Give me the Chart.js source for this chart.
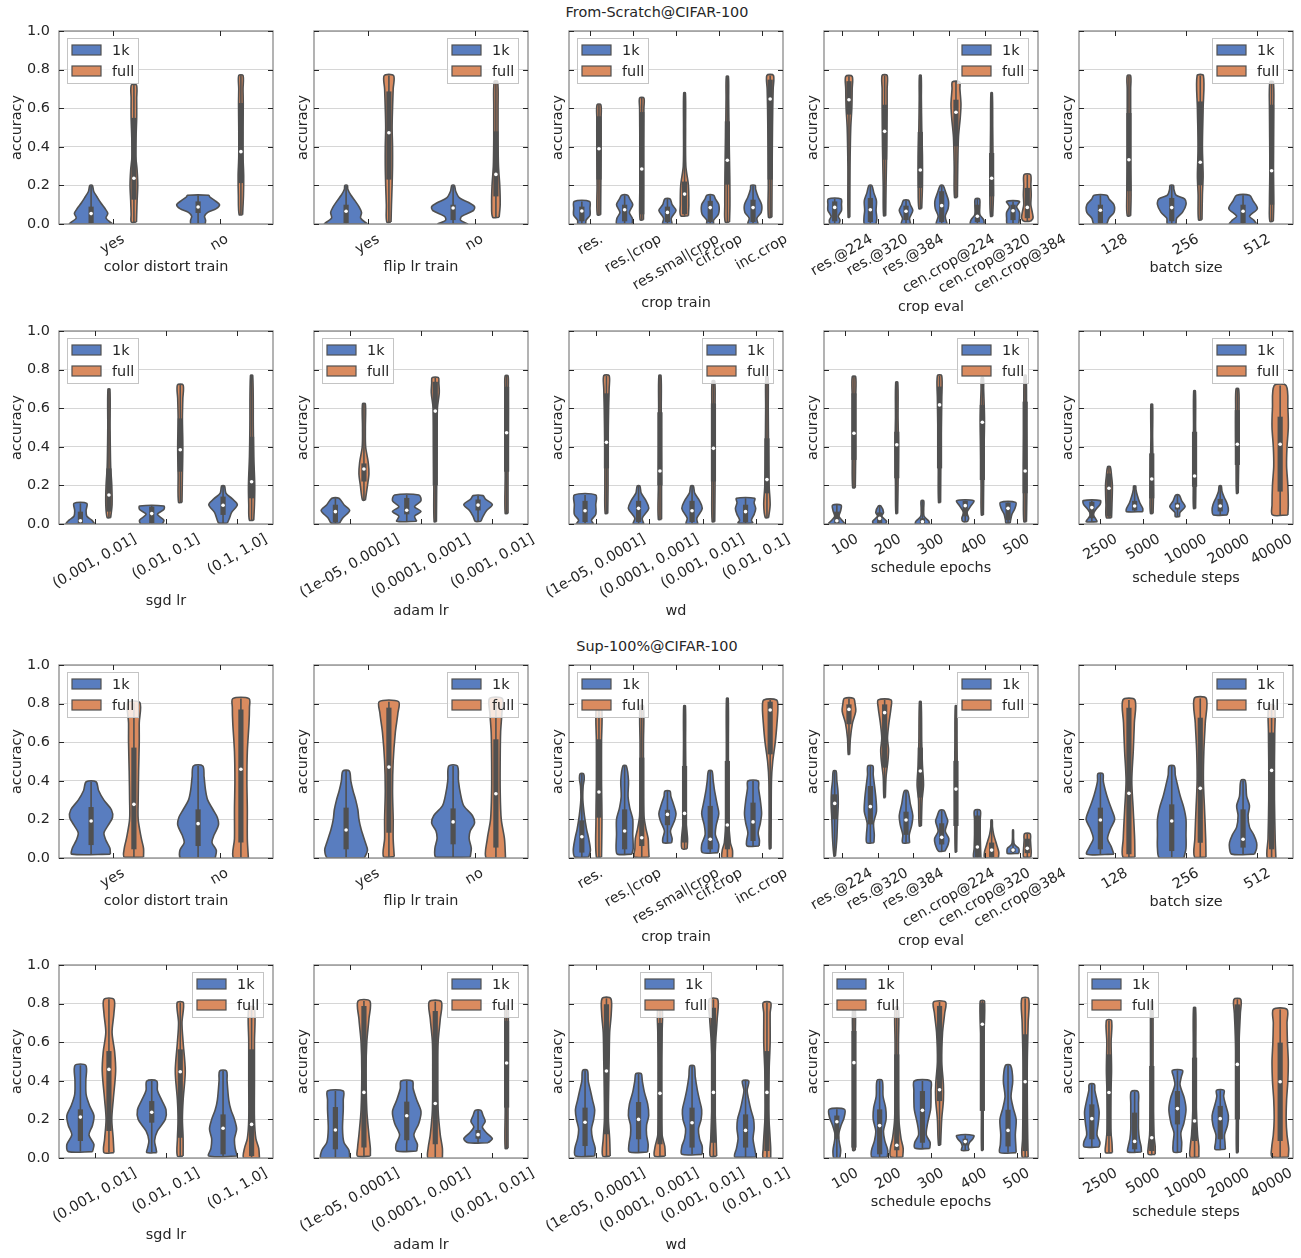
<!DOCTYPE html>
<html>
<head>
<meta charset="utf-8">
<script src="https://cdn.jsdelivr.net/npm/chart.js@4/dist/chart.umd.min.js"></script>
<style>
  html, body { margin: 0; padding: 0; background: #fff; }
  body { width: 1301px; height: 1258px; position: relative; overflow: hidden; font-family: "DejaVu Sans", sans-serif; }
  canvas { position: absolute; }
  .sup { position: absolute; left: 0; width: 1314px; text-align: center; font-size: 14.4px; line-height: 17px; color: #262626; }
</style>
</head>
<body>
<div class="sup" style="top:4px">From-Scratch@CIFAR-100</div>
<div class="sup" style="top:638px">Sup-100%@CIFAR-100</div>
<script>
// ---------- categories ----------
const hueNames = ['1k', 'full'];
const yTicks = [0, 0.2, 0.4, 0.6, 0.8, 1.0];
const colorCats = ['yes', 'no'];
const flipCats = ['yes', 'no'];
const cropTrainCats = ['res.', 'res.|crop', 'res.smal|crop', 'cif.crop', 'inc.crop'];
const cropEvalCats = ['res.@224', 'res.@320', 'res.@384', 'cen.crop@224', 'cen.crop@320', 'cen.crop@384'];
const batchCats = ['128', '256', '512'];
const sgdCats = ['(0.001, 0.01]', '(0.01, 0.1]', '(0.1, 1.0]'];
const adamCats = ['(1e-05, 0.0001]', '(0.0001, 0.001]', '(0.001, 0.01]'];
const wdCats = ['(1e-05, 0.0001]', '(0.0001, 0.001]', '(0.001, 0.01]', '(0.01, 0.1]'];
const epochCats = ['100', '200', '300', '400', '500'];
const stepCats = ['2500', '5000', '10000', '20000', '40000'];

// ---------- violins: [[q1, median, q3], [[accuracy, relative density], ...]] ----------
// From-Scratch@CIFAR-100
const fsColor1k = [
  [[0.005,0.054,0.09], [[0,1.0],[0.03,0.7],[0.055,0.78],[0.08,0.65],[0.11,0.45],[0.14,0.28],[0.17,0.12],[0.2,0.06]]],
  [[0.057,0.088,0.117], [[0,0.33],[0.02,0.35],[0.04,0.3],[0.06,0.45],[0.08,0.85],[0.1,1.0],[0.12,0.8],[0.14,0.55],[0.149,0.5]]]
];
const fsColorFull = [
  [[0.126,0.237,0.55], [[0.01,0.12],[0.05,0.13],[0.12,0.15],[0.2,0.18],[0.28,0.15],[0.35,0.09],[0.45,0.1],[0.55,0.13],[0.65,0.13],[0.72,0.12]]],
  [[0.212,0.375,0.627], [[0.048,0.08],[0.15,0.12],[0.25,0.13],[0.35,0.1],[0.5,0.1],[0.62,0.11],[0.7,0.1],[0.769,0.1]]]
];
const fsFlip1k = [
  [[0.005,0.066,0.1], [[0,1.0],[0.03,0.68],[0.06,0.72],[0.09,0.6],[0.12,0.42],[0.15,0.22],[0.18,0.08],[0.2,0.06]]],
  [[0.02,0.083,0.1], [[0,0.7],[0.02,0.35],[0.04,0.4],[0.07,0.95],[0.09,1.0],[0.11,0.75],[0.135,0.3],[0.17,0.12],[0.2,0.06]]]
];
const fsFlipFull = [
  [[0.23,0.473,0.687], [[0.01,0.1],[0.1,0.12],[0.2,0.15],[0.3,0.17],[0.4,0.17],[0.5,0.15],[0.6,0.17],[0.7,0.2],[0.769,0.22]]],
  [[0.143,0.257,0.48], [[0.035,0.15],[0.1,0.2],[0.2,0.18],[0.3,0.12],[0.45,0.1],[0.6,0.1],[0.739,0.08]]]
];
const fsCropTrain1k = [
  [[0.014,0.067,0.09], [[0,0.45],[0.02,0.5],[0.045,0.95],[0.08,0.95],[0.117,0.9]]],
  [[0.014,0.074,0.1], [[0,0.9],[0.03,0.9],[0.06,0.55],[0.1,0.95],[0.13,0.6],[0.149,0.35]]],
  [[0.01,0.06,0.09], [[0,0.55],[0.03,0.45],[0.07,1.0],[0.1,0.55],[0.13,0.3]]],
  [[0.01,0.085,0.12], [[0,0.4],[0.02,0.4],[0.05,0.95],[0.1,1.0],[0.13,0.6],[0.149,0.4]]],
  [[0.01,0.085,0.126], [[0,0.6],[0.03,0.45],[0.06,0.95],[0.1,1.0],[0.14,0.6],[0.18,0.3],[0.2,0.25]]]
];
const fsCropTrainFull = [
  [[0.23,0.39,0.558], [[0.048,0.2],[0.2,0.22],[0.4,0.25],[0.55,0.25],[0.618,0.22]]],
  [[0.05,0.285,0.58], [[0.022,0.2],[0.2,0.22],[0.4,0.22],[0.6,0.25],[0.653,0.25]]],
  [[0.05,0.155,0.22], [[0.043,0.45],[0.1,0.5],[0.2,0.45],[0.3,0.15],[0.5,0.12],[0.679,0.1]]],
  [[0.204,0.33,0.532], [[0.01,0.25],[0.1,0.3],[0.25,0.28],[0.45,0.2],[0.65,0.15],[0.765,0.12]]],
  [[0.23,0.648,0.748], [[0.035,0.2],[0.2,0.22],[0.4,0.25],[0.6,0.3],[0.7,0.35],[0.77,0.38]]]
];
const fsCropEval1k = [
  [[0.014,0.086,0.117], [[0,0.6],[0.02,0.75],[0.04,0.5],[0.07,0.95],[0.1,0.95],[0.13,0.9]]],
  [[0.01,0.074,0.135], [[0,0.8],[0.03,0.9],[0.07,0.8],[0.12,0.85],[0.16,0.5],[0.2,0.2]]],
  [[0.02,0.066,0.095], [[0,0.65],[0.03,0.5],[0.07,0.95],[0.1,0.6],[0.123,0.35]]],
  [[0.01,0.095,0.17], [[0,0.75],[0.04,0.5],[0.08,0.9],[0.12,0.95],[0.16,0.6],[0.2,0.2]]],
  [[0.01,0.04,0.1], [[0,0.95],[0.02,0.9],[0.05,0.35],[0.1,0.35],[0.13,0.3]]],
  [[0.02,0.069,0.1], [[0,0.8],[0.03,0.9],[0.06,0.9],[0.09,0.5],[0.117,0.9]]]
];
const fsCropEvalFull = [
  [[0.567,0.644,0.74], [[0.035,0.12],[0.3,0.15],[0.5,0.25],[0.6,0.4],[0.7,0.45],[0.765,0.45]]],
  [[0.333,0.48,0.618], [[0.043,0.15],[0.2,0.2],[0.4,0.3],[0.6,0.35],[0.7,0.35],[0.77,0.35]]],
  [[0.187,0.28,0.477], [[0.08,0.2],[0.2,0.3],[0.35,0.3],[0.5,0.2],[0.65,0.15],[0.77,0.12]]],
  [[0.402,0.579,0.644], [[0.138,0.2],[0.3,0.25],[0.45,0.35],[0.55,0.6],[0.62,0.7],[0.7,0.55],[0.736,0.5]]],
  [[0.143,0.237,0.368], [[0.04,0.15],[0.15,0.25],[0.3,0.2],[0.5,0.15],[0.679,0.1]]],
  [[0.03,0.086,0.187], [[0.014,0.45],[0.03,0.8],[0.06,0.7],[0.1,0.5],[0.15,0.55],[0.2,0.5],[0.256,0.45]]]
];
const fsBatch1k = [
  [[0.005,0.071,0.1], [[0,0.45],[0.03,0.6],[0.06,0.95],[0.1,0.95],[0.13,0.6],[0.149,0.45]]],
  [[0.014,0.085,0.135], [[0,0.3],[0.03,0.35],[0.06,0.75],[0.1,1.0],[0.13,0.9],[0.15,0.3],[0.18,0.15],[0.2,0.12]]],
  [[0.005,0.066,0.1], [[0,0.95],[0.02,0.75],[0.04,0.45],[0.08,1.0],[0.12,0.7],[0.149,0.45]]]
];
const fsBatchFull = [
  [[0.17,0.333,0.575], [[0.043,0.12],[0.15,0.15],[0.3,0.12],[0.5,0.12],[0.7,0.12],[0.769,0.12]]],
  [[0.2,0.32,0.635], [[0.022,0.12],[0.15,0.15],[0.25,0.2],[0.4,0.15],[0.6,0.2],[0.769,0.22]]],
  [[0.1,0.276,0.618], [[0.014,0.12],[0.1,0.15],[0.3,0.12],[0.6,0.15],[0.736,0.12]]]
];
const fsSgd1k = [
  [[0,0.017,0.064], [[0,1.0],[0.02,0.8],[0.04,0.45],[0.07,0.4],[0.107,0.45]]],
  [[0.005,0.054,0.09], [[0,0.75],[0.02,0.85],[0.05,0.4],[0.075,0.85],[0.093,0.85]]],
  [[0.047,0.097,0.142], [[0.005,0.3],[0.03,0.45],[0.06,0.6],[0.1,1.0],[0.13,0.65],[0.16,0.2],[0.197,0.1]]]
];
const fsSgdFull = [
  [[0.064,0.15,0.288], [[0.033,0.12],[0.1,0.22],[0.2,0.2],[0.3,0.12],[0.5,0.08],[0.698,0.07]]],
  [[0.271,0.385,0.547], [[0.112,0.12],[0.25,0.15],[0.4,0.18],[0.55,0.15],[0.65,0.18],[0.72,0.2]]],
  [[0.133,0.219,0.452], [[0.02,0.15],[0.1,0.2],[0.2,0.22],[0.35,0.15],[0.5,0.12],[0.769,0.08]]]
];
const fsAdam1k = [
  [[0.01,0.064,0.1], [[0.005,0.3],[0.03,0.5],[0.07,1.0],[0.1,0.6],[0.133,0.25]]],
  [[0.05,0.071,0.135], [[0.014,0.7],[0.04,0.55],[0.065,1.0],[0.09,0.55],[0.12,1.0],[0.15,0.85]]],
  [[0.07,0.098,0.127], [[0.014,0.2],[0.04,0.35],[0.07,0.6],[0.1,1.0],[0.13,0.5],[0.147,0.35]]]
];
const fsAdamFull = [
  [[0.22,0.285,0.314], [[0.124,0.1],[0.2,0.25],[0.26,0.35],[0.32,0.3],[0.4,0.12],[0.5,0.1],[0.622,0.1]]],
  [[0.2,0.585,0.737], [[0.012,0.08],[0.2,0.1],[0.4,0.12],[0.6,0.15],[0.68,0.28],[0.73,0.25],[0.758,0.22]]],
  [[0.271,0.473,0.711], [[0.055,0.1],[0.25,0.1],[0.5,0.12],[0.7,0.12],[0.768,0.1]]]
];
const fsWd1k = [
  [[0.01,0.069,0.12], [[0,0.8],[0.02,0.6],[0.05,1.0],[0.1,1.0],[0.15,1.0]]],
  [[0.01,0.081,0.12], [[0,0.5],[0.03,0.35],[0.08,0.95],[0.12,0.7],[0.16,0.25],[0.197,0.12]]],
  [[0.01,0.069,0.12], [[0,0.55],[0.03,0.45],[0.08,0.95],[0.12,0.7],[0.16,0.25],[0.197,0.12]]],
  [[0.01,0.064,0.1], [[0.005,0.7],[0.02,0.55],[0.05,0.8],[0.08,0.95],[0.11,0.8],[0.133,0.85]]]
];
const fsWdFull = [
  [[0.288,0.423,0.677], [[0.055,0.12],[0.2,0.15],[0.4,0.15],[0.6,0.2],[0.7,0.25],[0.769,0.25]]],
  [[0.2,0.275,0.579], [[0.024,0.15],[0.2,0.15],[0.4,0.12],[0.6,0.12],[0.769,0.1]]],
  [[0.22,0.392,0.625], [[0.012,0.12],[0.2,0.15],[0.4,0.15],[0.6,0.15],[0.74,0.12]]],
  [[0.159,0.23,0.444], [[0.033,0.15],[0.1,0.3],[0.2,0.2],[0.4,0.15],[0.6,0.12],[0.763,0.1]]]
];
const fsEpoch1k = [
  [[0.005,0.017,0.064], [[0,0.95],[0.02,0.6],[0.04,0.25],[0.07,0.45],[0.098,0.5]]],
  [[0.005,0.029,0.06], [[0,0.7],[0.015,0.8],[0.04,0.25],[0.06,0.45],[0.093,0.15]]],
  [[0,0.012,0.03], [[0,0.8],[0.015,0.75],[0.04,0.2],[0.08,0.15],[0.121,0.15]]],
  [[0.04,0.095,0.12], [[0.012,0.25],[0.03,0.4],[0.06,0.2],[0.09,0.6],[0.121,1.0]]],
  [[0.02,0.081,0.11], [[0.005,0.25],[0.02,0.3],[0.05,0.45],[0.08,0.8],[0.112,0.9]]]
];
const fsEpochFull = [
  [[0.332,0.47,0.677], [[0.188,0.15],[0.35,0.2],[0.5,0.2],[0.65,0.2],[0.763,0.2]]],
  [[0.237,0.411,0.478], [[0.055,0.1],[0.2,0.15],[0.4,0.2],[0.55,0.15],[0.734,0.12]]],
  [[0.288,0.617,0.712], [[0.112,0.12],[0.3,0.15],[0.5,0.2],[0.65,0.25],[0.769,0.25]]],
  [[0.228,0.527,0.617], [[0.047,0.12],[0.2,0.15],[0.4,0.2],[0.55,0.25],[0.7,0.15],[0.758,0.12]]],
  [[0.159,0.275,0.634], [[0.012,0.15],[0.15,0.2],[0.3,0.2],[0.5,0.15],[0.769,0.12]]]
];
const fsStep1k = [
  [[0.03,0.085,0.115], [[0.012,0.65],[0.03,0.4],[0.05,0.15],[0.08,0.55],[0.1,0.95],[0.121,1.0]]],
  [[0.07,0.093,0.12], [[0.064,0.95],[0.08,0.95],[0.11,0.6],[0.15,0.3],[0.18,0.15],[0.197,0.12]]],
  [[0.075,0.093,0.11], [[0.038,0.25],[0.06,0.3],[0.09,0.9],[0.12,0.5],[0.15,0.2]]],
  [[0.065,0.093,0.13], [[0.047,0.8],[0.07,0.95],[0.1,0.85],[0.14,0.45],[0.17,0.2],[0.197,0.12]]],
  null
];
const fsStepFull = [
  [[0.038,0.185,0.262], [[0.033,0.3],[0.1,0.35],[0.2,0.4],[0.25,0.3],[0.297,0.15]]],
  [[0.133,0.233,0.366], [[0.055,0.15],[0.15,0.2],[0.3,0.15],[0.45,0.1],[0.62,0.1]]],
  [[0.193,0.249,0.478], [[0.081,0.12],[0.2,0.15],[0.35,0.15],[0.5,0.12],[0.689,0.1]]],
  [[0.306,0.413,0.59], [[0.159,0.1],[0.3,0.15],[0.45,0.2],[0.6,0.2],[0.7,0.15]]],
  [[0.168,0.413,0.556], [[0.047,0.9],[0.1,0.95],[0.2,0.9],[0.3,0.75],[0.4,0.8],[0.5,0.95],[0.6,0.9],[0.717,0.7]]]
];

// Sup-100%@CIFAR-100
const supColor1k = [
  [[0.067,0.192,0.264], [[0.02,0.9],[0.05,0.88],[0.09,0.7],[0.13,0.6],[0.17,0.8],[0.21,1.0],[0.25,0.95],[0.3,0.6],[0.35,0.35],[0.395,0.23]]],
  [[0.062,0.178,0.252], [[0,0.8],[0.04,0.85],[0.08,0.65],[0.12,0.75],[0.17,0.95],[0.21,0.9],[0.25,0.7],[0.3,0.45],[0.35,0.35],[0.42,0.28],[0.477,0.22]]]
];
const supColorFull = [
  [[0.045,0.278,0.572], [[0.005,0.45],[0.05,0.45],[0.1,0.35],[0.2,0.2],[0.3,0.2],[0.45,0.22],[0.6,0.25],[0.7,0.25],[0.805,0.28]]],
  [[0.08,0.46,0.77], [[0,0.35],[0.1,0.3],[0.25,0.3],[0.4,0.28],[0.55,0.3],[0.7,0.38],[0.78,0.4],[0.826,0.38]]]
];
const supFlip1k = [
  [[0.045,0.145,0.261], [[0,0.85],[0.04,1.0],[0.08,0.9],[0.15,0.7],[0.2,0.6],[0.25,0.55],[0.3,0.45],[0.35,0.32],[0.4,0.22],[0.451,0.15]]],
  [[0.071,0.187,0.257], [[0.005,0.8],[0.05,0.85],[0.1,0.75],[0.14,0.8],[0.18,1.0],[0.22,0.9],[0.27,0.5],[0.33,0.35],[0.4,0.25],[0.477,0.2]]]
];
const supFlipFull = [
  [[0.131,0.471,0.779], [[0.007,0.25],[0.1,0.2],[0.2,0.2],[0.35,0.17],[0.5,0.2],[0.65,0.3],[0.75,0.42],[0.81,0.45]]],
  [[0.054,0.333,0.615], [[0,0.45],[0.1,0.4],[0.2,0.25],[0.35,0.2],[0.5,0.2],[0.65,0.22],[0.75,0.28],[0.826,0.3]]]
];
const supCropTrain1k = [
  [[0.028,0.11,0.195], [[0.005,0.8],[0.04,1.0],[0.1,0.8],[0.15,0.55],[0.22,0.3],[0.3,0.12],[0.37,0.15],[0.41,0.28],[0.437,0.2]]],
  [[0.045,0.14,0.252], [[0.02,0.85],[0.05,1.0],[0.12,0.95],[0.2,0.95],[0.26,0.6],[0.32,0.4],[0.4,0.45],[0.477,0.2]]],
  [[0.17,0.226,0.25], [[0.079,0.5],[0.1,0.55],[0.14,0.35],[0.19,0.8],[0.23,1.0],[0.28,0.7],[0.32,0.4],[0.347,0.3]]],
  [[0.045,0.097,0.27], [[0.028,0.9],[0.07,1.0],[0.12,0.6],[0.17,0.7],[0.23,1.0],[0.28,0.8],[0.35,0.5],[0.4,0.35],[0.451,0.2]]],
  [[0.088,0.187,0.287], [[0.062,0.7],[0.09,0.75],[0.13,0.6],[0.18,0.85],[0.23,1.0],[0.3,0.85],[0.36,0.65],[0.399,0.6]]]
];
const supCropTrainFull = [
  [[0.209,0.342,0.615], [[0.005,0.3],[0.2,0.35],[0.4,0.3],[0.6,0.3],[0.79,0.3]]],
  [[0.062,0.105,0.52], [[0.005,0.85],[0.05,0.8],[0.1,0.75],[0.15,0.5],[0.22,0.25],[0.4,0.2],[0.6,0.2],[0.788,0.2]]],
  [[0.08,0.231,0.477], [[0.048,0.3],[0.1,0.35],[0.2,0.15],[0.4,0.15],[0.6,0.12],[0.788,0.1]]],
  [[0.045,0.171,0.503], [[0,0.6],[0.04,0.6],[0.08,0.35],[0.2,0.15],[0.4,0.12],[0.6,0.12],[0.827,0.1]]],
  [[0.537,0.767,0.81], [[0.048,0.1],[0.2,0.12],[0.4,0.15],[0.5,0.3],[0.6,0.6],[0.7,0.8],[0.78,0.9],[0.819,0.75]]]
];
const supCropEval1k = [
  [[0.2,0.283,0.33], [[0.01,0.1],[0.1,0.3],[0.2,0.4],[0.28,0.5],[0.35,0.45],[0.4,0.3],[0.451,0.2]]],
  [[0.174,0.266,0.373], [[0.079,0.5],[0.12,0.55],[0.18,0.45],[0.24,0.85],[0.3,0.8],[0.37,0.6],[0.43,0.4],[0.477,0.35]]],
  [[0.12,0.197,0.24], [[0.079,0.5],[0.12,0.45],[0.17,0.8],[0.22,0.95],[0.28,0.6],[0.347,0.25]]],
  [[0.07,0.107,0.18], [[0.036,0.45],[0.07,0.9],[0.1,1.0],[0.14,0.5],[0.19,0.85],[0.22,0.6],[0.247,0.3]]],
  [[0.005,0.057,0.22], [[0,0.5],[0.05,0.45],[0.12,0.4],[0.2,0.4],[0.247,0.4]]],
  [[0.03,0.041,0.05], [[0.024,0.8],[0.035,0.85],[0.05,0.8],[0.07,0.2],[0.1,0.08],[0.145,0.06]]]
];
const supCropEvalFull = [
  [[0.693,0.77,0.796], [[0.537,0.1],[0.62,0.2],[0.7,0.5],[0.76,0.95],[0.8,0.85],[0.827,0.65]]],
  [[0.468,0.753,0.796], [[0.313,0.1],[0.42,0.2],[0.5,0.45],[0.56,0.55],[0.62,0.4],[0.7,0.6],[0.78,0.9],[0.819,0.9]]],
  [[0.313,0.451,0.572], [[0.166,0.15],[0.3,0.25],[0.38,0.45],[0.48,0.3],[0.6,0.2],[0.81,0.12]]],
  [[0.166,0.357,0.503], [[0.031,0.1],[0.2,0.15],[0.4,0.18],[0.6,0.15],[0.788,0.1]]],
  [[0.005,0.041,0.08], [[0,0.95],[0.03,1.0],[0.07,0.7],[0.12,0.3],[0.16,0.12],[0.197,0.08]]],
  [[0.025,0.05,0.1], [[0.005,0.5],[0.03,0.55],[0.06,0.5],[0.09,0.45],[0.126,0.4]]]
];
const supBatch1k = [
  [[0.045,0.197,0.261], [[0.02,0.95],[0.06,0.75],[0.1,0.5],[0.15,0.7],[0.2,1.0],[0.25,0.8],[0.3,0.55],[0.35,0.35],[0.4,0.2],[0.437,0.18]]],
  [[0.036,0.192,0.278], [[0,0.85],[0.05,1.0],[0.12,1.0],[0.2,1.0],[0.26,0.85],[0.32,0.6],[0.38,0.4],[0.43,0.25],[0.477,0.18]]],
  [[0.054,0.097,0.252], [[0.02,0.8],[0.05,0.95],[0.08,0.95],[0.12,0.75],[0.16,0.45],[0.22,0.35],[0.27,0.45],[0.32,0.25],[0.402,0.15]]]
];
const supBatchFull = [
  [[0.02,0.335,0.779], [[0.005,0.42],[0.1,0.4],[0.25,0.3],[0.4,0.2],[0.55,0.3],[0.7,0.38],[0.819,0.42]]],
  [[0.079,0.361,0.727], [[0.005,0.4],[0.1,0.38],[0.25,0.3],[0.4,0.22],[0.55,0.25],[0.7,0.35],[0.827,0.42]]],
  [[0.045,0.454,0.65], [[0,0.3],[0.1,0.25],[0.3,0.2],[0.5,0.2],[0.65,0.22],[0.79,0.2]]]
];
const supSgd1k = [
  [[0.088,0.212,0.252], [[0.033,0.85],[0.07,0.95],[0.12,0.6],[0.17,0.85],[0.22,0.95],[0.27,0.65],[0.33,0.4],[0.4,0.38],[0.48,0.38]]],
  [[0.183,0.237,0.295], [[0.028,0.35],[0.05,0.3],[0.09,0.2],[0.14,0.4],[0.2,0.95],[0.25,1.0],[0.3,0.7],[0.35,0.4],[0.399,0.35]]],
  [[0.019,0.154,0.226], [[0.01,1.0],[0.05,0.85],[0.1,0.8],[0.15,0.95],[0.2,0.8],[0.25,0.55],[0.3,0.4],[0.4,0.28],[0.451,0.24]]]
];
const supSgdFull = [
  [[0.14,0.459,0.554], [[0.028,0.35],[0.1,0.3],[0.2,0.2],[0.3,0.3],[0.45,0.47],[0.55,0.4],[0.65,0.22],[0.75,0.35],[0.822,0.35]]],
  [[0.105,0.447,0.563], [[0.01,0.2],[0.1,0.2],[0.2,0.15],[0.3,0.2],[0.45,0.35],[0.6,0.2],[0.7,0.12],[0.805,0.22]]],
  [[0.01,0.174,0.563], [[0,0.55],[0.05,0.5],[0.1,0.3],[0.2,0.2],[0.4,0.2],[0.6,0.2],[0.78,0.2]]]
];
const supAdam1k = [
  [[0.045,0.145,0.264], [[0,1.0],[0.04,0.95],[0.08,0.6],[0.15,0.5],[0.25,0.55],[0.3,0.55],[0.347,0.55]]],
  [[0.092,0.219,0.292], [[0.036,0.7],[0.07,0.75],[0.12,0.5],[0.18,0.85],[0.24,1.0],[0.3,0.7],[0.36,0.45],[0.399,0.4]]],
  [[0.1,0.121,0.145], [[0.079,0.7],[0.1,1.0],[0.13,0.6],[0.16,0.3],[0.19,0.5],[0.22,0.35],[0.247,0.2]]]
];
const supAdamFull = [
  [[0.054,0.34,0.788], [[0.01,0.45],[0.05,0.45],[0.12,0.35],[0.25,0.2],[0.45,0.15],[0.6,0.2],[0.72,0.35],[0.813,0.42]]],
  [[0.071,0.282,0.762], [[0,0.5],[0.05,0.5],[0.12,0.35],[0.25,0.2],[0.45,0.18],[0.6,0.2],[0.72,0.35],[0.81,0.42]]],
  [[0.261,0.492,0.71], [[0.05,0.1],[0.25,0.1],[0.5,0.12],[0.7,0.12],[0.787,0.1]]]
];
const supWd1k = [
  [[0.062,0.185,0.261], [[0.01,0.9],[0.05,0.95],[0.1,0.7],[0.15,0.6],[0.2,0.8],[0.25,0.9],[0.3,0.7],[0.35,0.5],[0.4,0.3],[0.454,0.22]]],
  [[0.097,0.2,0.29], [[0.031,0.85],[0.07,0.9],[0.12,0.75],[0.17,0.75],[0.22,0.95],[0.28,0.85],[0.34,0.55],[0.4,0.35],[0.437,0.25]]],
  [[0.054,0.183,0.261], [[0.019,0.95],[0.06,0.95],[0.1,0.7],[0.15,0.6],[0.2,0.85],[0.25,0.9],[0.3,0.7],[0.35,0.5],[0.42,0.3],[0.477,0.2]]],
  [[0.054,0.143,0.226], [[0.005,1.0],[0.05,0.85],[0.1,0.7],[0.15,0.8],[0.2,0.75],[0.25,0.5],[0.3,0.3],[0.35,0.15],[0.399,0.3]]]
];
const supWdFull = [
  [[0.123,0.451,0.796], [[0.01,0.35],[0.1,0.3],[0.2,0.18],[0.35,0.2],[0.5,0.25],[0.65,0.3],[0.75,0.45],[0.827,0.4]]],
  [[0.071,0.335,0.7], [[0.01,0.5],[0.06,0.45],[0.12,0.2],[0.3,0.15],[0.5,0.15],[0.65,0.2],[0.78,0.2]]],
  [[0.079,0.34,0.779], [[0.01,0.3],[0.1,0.25],[0.25,0.15],[0.45,0.12],[0.6,0.2],[0.72,0.35],[0.822,0.4]]],
  [[0.036,0.34,0.554], [[0,0.35],[0.05,0.35],[0.1,0.3],[0.25,0.15],[0.45,0.2],[0.6,0.3],[0.75,0.3],[0.805,0.35]]]
];
const supEpoch1k = [
  [[0.1,0.188,0.22], [[0,0.35],[0.04,0.45],[0.08,0.3],[0.12,0.2],[0.17,0.5],[0.21,0.85],[0.252,0.9]]],
  [[0.019,0.168,0.252], [[0.005,0.9],[0.04,0.95],[0.09,0.6],[0.14,0.45],[0.2,0.75],[0.26,0.7],[0.32,0.4],[0.402,0.3]]],
  [[0.079,0.247,0.347], [[0.05,0.85],[0.08,0.9],[0.12,0.45],[0.18,0.6],[0.25,0.95],[0.3,1.0],[0.35,1.0],[0.399,0.95]]],
  [[0.065,0.085,0.1], [[0.04,0.45],[0.06,0.35],[0.08,0.5],[0.1,0.9],[0.117,1.0]]],
  [[0.06,0.143,0.25], [[0.028,0.95],[0.07,0.9],[0.12,0.85],[0.2,0.95],[0.26,0.6],[0.32,0.35],[0.4,0.55],[0.48,0.3]]]
];
const supEpochFull = [
  [[0.054,0.494,0.658], [[0.04,0.15],[0.2,0.15],[0.4,0.15],[0.6,0.15],[0.78,0.15]]],
  [[0.04,0.066,0.537], [[0.005,0.7],[0.05,0.75],[0.1,0.5],[0.2,0.25],[0.4,0.2],[0.6,0.2],[0.78,0.2]]],
  [[0.295,0.354,0.788], [[0.067,0.12],[0.2,0.25],[0.3,0.45],[0.38,0.45],[0.5,0.25],[0.65,0.35],[0.75,0.6],[0.808,0.7]]],
  [[0.244,0.693,0.805], [[0.04,0.1],[0.3,0.1],[0.6,0.15],[0.813,0.25]]],
  [[0.036,0.395,0.641], [[0.005,0.35],[0.1,0.3],[0.3,0.25],[0.5,0.25],[0.7,0.35],[0.827,0.4]]]
];
const supStep1k = [
  [[0.097,0.204,0.278], [[0.057,0.85],[0.08,0.95],[0.12,0.6],[0.18,0.75],[0.24,0.85],[0.3,0.6],[0.35,0.35],[0.382,0.3]]],
  [[0.045,0.086,0.235], [[0.031,0.8],[0.06,0.75],[0.1,0.55],[0.15,0.45],[0.2,0.45],[0.28,0.45],[0.344,0.4]]],
  [[0.174,0.256,0.347], [[0.031,0.45],[0.08,0.5],[0.13,0.4],[0.18,0.75],[0.25,1.0],[0.31,0.8],[0.38,0.3],[0.42,0.45],[0.454,0.6]]],
  [[0.097,0.204,0.27], [[0.045,0.6],[0.08,0.55],[0.12,0.5],[0.17,0.85],[0.22,0.95],[0.28,0.6],[0.32,0.4],[0.351,0.45]]],
  null
];
const supStepFull = [
  [[0.114,0.339,0.537], [[0.028,0.4],[0.08,0.35],[0.15,0.2],[0.3,0.2],[0.45,0.3],[0.6,0.25],[0.713,0.3]]],
  [[0.036,0.105,0.477], [[0.019,0.4],[0.06,0.4],[0.12,0.25],[0.3,0.15],[0.5,0.15],[0.7,0.15],[0.81,0.12]]],
  [[0.088,0.192,0.52], [[0.005,0.5],[0.06,0.5],[0.12,0.35],[0.25,0.2],[0.45,0.15],[0.6,0.15],[0.779,0.12]]],
  [[0.2,0.485,0.796], [[0.028,0.1],[0.2,0.12],[0.4,0.15],[0.6,0.2],[0.75,0.35],[0.822,0.4]]],
  [[0.088,0.395,0.598], [[0.005,0.95],[0.05,1.0],[0.12,0.8],[0.2,0.7],[0.3,0.75],[0.4,0.9],[0.5,0.95],[0.6,0.85],[0.7,0.8],[0.77,0.8]]]
];

// ---------- panel table: categories, x title, 1k violins, full violins, legend corner ----------
const panels = [
  [colorCats, 'color distort train', fsColor1k, fsColorFull, 'left'],
  [flipCats, 'flip lr train', fsFlip1k, fsFlipFull, 'right'],
  [cropTrainCats, 'crop train', fsCropTrain1k, fsCropTrainFull, 'left'],
  [cropEvalCats, 'crop eval', fsCropEval1k, fsCropEvalFull, 'right'],
  [batchCats, 'batch size', fsBatch1k, fsBatchFull, 'right'],
  [sgdCats, 'sgd lr', fsSgd1k, fsSgdFull, 'left'],
  [adamCats, 'adam lr', fsAdam1k, fsAdamFull, 'left'],
  [wdCats, 'wd', fsWd1k, fsWdFull, 'right'],
  [epochCats, 'schedule epochs', fsEpoch1k, fsEpochFull, 'right'],
  [stepCats, 'schedule steps', fsStep1k, fsStepFull, 'right'],
  [colorCats, 'color distort train', supColor1k, supColorFull, 'left'],
  [flipCats, 'flip lr train', supFlip1k, supFlipFull, 'right'],
  [cropTrainCats, 'crop train', supCropTrain1k, supCropTrainFull, 'left'],
  [cropEvalCats, 'crop eval', supCropEval1k, supCropEvalFull, 'right'],
  [batchCats, 'batch size', supBatch1k, supBatchFull, 'right'],
  [sgdCats, 'sgd lr', supSgd1k, supSgdFull, 'right'],
  [adamCats, 'adam lr', supAdam1k, supAdamFull, 'right'],
  [wdCats, 'wd', supWd1k, supWdFull, 'center'],
  [epochCats, 'schedule epochs', supEpoch1k, supEpochFull, 'left'],
  [stepCats, 'schedule steps', supStep1k, supStepFull, 'left']
];

// ---------- layout and style ----------
const PLOT_LEFT = [59, 314, 569, 824, 1079];
const PLOT_TOP = [31, 331, 665, 965];
const PLOT_W = 214, PLOT_H = 193;
const PAD = { l: 60, t: 10, r: 45, b: 115 };
const FONT = '14.4px "DejaVu Sans", sans-serif';
const TEXT = '#262626';
const EDGE = '#505050';
const SPINE = '#8a8a8a';
const GRID = '#d6d6d6';
const FILL = ['#597dbf', '#da8b5f'];
const TEXT_H = 19;
const HUE_OFFSET = 0.2;   // dodge of each hue from the category centre
const HALF_MAX = 0.2;     // half-width of a violin at full density

function violinDatasets(list, hue) {
  const out = [];
  list.forEach((v, i) => {
    if (!v) return;
    const c = i + (hue === 0 ? -HUE_OFFSET : HUE_OFFSET);
    const [box, shape] = v;
    const right = shape.map(([y, d]) => ({ x: c + d * HALF_MAX, y }));
    const left = shape.slice().reverse().map(([y, d]) => ({ x: c - d * HALF_MAX, y }));
    out.push({
      data: right.concat(left, [right[0]]), fill: 'shape',
      backgroundColor: FILL[hue], borderColor: EDGE, borderWidth: 1.6,
      borderJoinStyle: 'round', tension: 0.3, pointRadius: 0, order: 3
    });
    out.push({
      data: [{ x: c, y: shape[0][0] }, { x: c, y: shape[shape.length - 1][0] }],
      borderColor: EDGE, borderWidth: 1.6, pointRadius: 0, fill: false, tension: 0, order: 2
    });
    out.push({
      data: [{ x: c, y: box[0] }, { x: c, y: box[2] }],
      borderColor: EDGE, borderWidth: 5.2, borderCapStyle: 'butt', pointRadius: 0, fill: false, tension: 0, order: 1
    });
    out.push({
      data: [{ x: c, y: box[1] }], showLine: false, pointRadius: 1.8,
      pointBackgroundColor: '#ffffff', pointBorderWidth: 0, order: 0
    });
  });
  return out;
}

function drawRotated(ctx, text, cx, top) {
  const a = Math.PI / 6;
  const w = ctx.measureText(text).width;
  const bh = w * Math.sin(a) + TEXT_H * Math.cos(a);
  ctx.save();
  ctx.translate(cx, top + bh / 2);
  ctx.rotate(-a);
  ctx.textAlign = 'center';
  ctx.textBaseline = 'middle';
  ctx.fillText(text, 0, 0);
  ctx.restore();
  return top + bh;
}

function decorPlugin(cats, title, legendPos, col) {
  return {
    id: 'decor',
    afterDatasetsDraw(chart) {
      const { ctx, chartArea: a, scales } = chart;
      const xs = scales.x, ys = scales.y;
      ctx.save();
      // spines
      ctx.strokeStyle = SPINE; ctx.lineWidth = 1.3;
      ctx.strokeRect(a.left, a.top, a.right - a.left, a.bottom - a.top);
      // inward ticks on all four sides
      ctx.strokeStyle = TEXT; ctx.lineWidth = 1;
      ctx.beginPath();
      cats.forEach((_, i) => {
        const px = Math.round(xs.getPixelForValue(i)) + 0.5;
        ctx.moveTo(px, a.bottom); ctx.lineTo(px, a.bottom - 5);
        ctx.moveTo(px, a.top); ctx.lineTo(px, a.top + 5);
      });
      yTicks.forEach(v => {
        const py = Math.round(ys.getPixelForValue(v)) + 0.5;
        ctx.moveTo(a.left, py); ctx.lineTo(a.left + 5, py);
        ctx.moveTo(a.right, py); ctx.lineTo(a.right - 5, py);
      });
      ctx.stroke();
      // legend
      const LW = 72, LH = 46;
      const lx = legendPos === 'left' ? a.left + 8
        : legendPos === 'right' ? a.right - 9 - LW
        : (a.left + a.right) / 2 - LW / 2;
      const ly = a.top + 7;
      ctx.fillStyle = 'rgba(255,255,255,0.8)';
      ctx.fillRect(lx, ly, LW, LH);
      ctx.strokeStyle = '#c4c4c4'; ctx.lineWidth = 1;
      ctx.strokeRect(lx + 0.5, ly + 0.5, LW - 1, LH - 1);
      ctx.font = FONT; ctx.textAlign = 'left'; ctx.textBaseline = 'middle';
      hueNames.forEach((name, k) => {
        const cy = ly + 12 + k * 21;
        ctx.fillStyle = FILL[k];
        ctx.fillRect(lx + 5, cy - 5, 29, 10);
        ctx.strokeStyle = EDGE; ctx.lineWidth = 1.2;
        ctx.strokeRect(lx + 5, cy - 5, 29, 10);
        ctx.fillStyle = TEXT;
        ctx.fillText(name, lx + 45, cy + 1);
      });
      ctx.restore();
    },
    afterDraw(chart) {
      const { ctx, chartArea: a, scales } = chart;
      const xs = scales.x, ys = scales.y;
      ctx.save();
      ctx.font = FONT; ctx.fillStyle = TEXT;
      let bottom = a.bottom;
      cats.forEach((c, i) => {
        bottom = Math.max(bottom, drawRotated(ctx, c, xs.getPixelForValue(i), a.bottom + 6));
      });
      ctx.textAlign = 'center'; ctx.textBaseline = 'middle';
      ctx.fillText(title, (a.left + a.right) / 2, bottom + 8.5);
      ctx.save();
      ctx.translate(a.left - (col === 0 ? 42 : 11), (a.top + a.bottom) / 2);
      ctx.rotate(-Math.PI / 2);
      ctx.fillText('accuracy', 0, 0);
      ctx.restore();
      if (col === 0) {
        ctx.textAlign = 'right';
        yTicks.forEach(v => ctx.fillText(v.toFixed(1), a.left - 9, ys.getPixelForValue(v)));
      }
      ctx.restore();
    }
  };
}

panels.forEach(([cats, title, blue, orange, legendPos], idx) => {
  const row = Math.floor(idx / 5), col = idx % 5;
  const cv = document.createElement('canvas');
  cv.width = PLOT_W + PAD.l + PAD.r;
  cv.height = PLOT_H + PAD.t + PAD.b;
  cv.style.left = (PLOT_LEFT[col] - PAD.l) + 'px';
  cv.style.top = (PLOT_TOP[row] - PAD.t) + 'px';
  document.body.appendChild(cv);
  new Chart(cv, {
    type: 'line',
    data: { datasets: violinDatasets(blue, 0).concat(violinDatasets(orange, 1)) },
    options: {
      responsive: false, animation: false, devicePixelRatio: 1, events: [],
      layout: { padding: { top: PAD.t, right: PAD.r, bottom: PAD.b, left: 0 } },
      plugins: { legend: { display: false }, tooltip: { enabled: false } },
      scales: {
        x: { type: 'linear', min: -0.5, max: cats.length - 0.5, display: false },
        y: {
          type: 'linear', min: 0, max: 1,
          afterFit: s => { s.width = PAD.l; },
          ticks: { display: false, stepSize: 0.2 },
          grid: { color: GRID, lineWidth: 1, drawTicks: false },
          border: { display: false }
        }
      }
    },
    plugins: [decorPlugin(cats, title, legendPos, col)]
  });
});
</script>
</body>
</html>
